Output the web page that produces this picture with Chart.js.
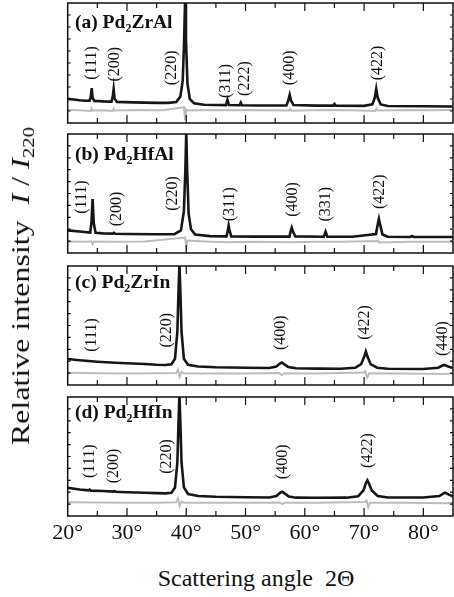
<!DOCTYPE html>
<html>
<head>
<meta charset="utf-8">
<script src="https://cdn.jsdelivr.net/npm/chart.js@4.4.1/dist/chart.umd.min.js"></script>
<style>
  body { margin: 0; background: #fff; }
  #wrap { position: relative; width: 454px; height: 597px; overflow: hidden; font-family: "Liberation Serif", serif; color: #111; }
  canvas { position: absolute; left: 0; }
  .tag { position: absolute; left: 75px; font-weight: bold; font-size: 19.5px; line-height: 18px; white-space: nowrap; }
  .tag sub { font-size: 12px; vertical-align: -4px; line-height: 0; }
  #ytitle { position: absolute; left: 21px; top: 286px; transform: translate(-50%, -50%) rotate(-90deg) scaleX(1.23); font-size: 26px; white-space: nowrap; }
  #ytitle sub { font-size: 17px; vertical-align: -5px; line-height: 0; }
  #xtitle { position: absolute; left: 256px; top: 578px; transform: translate(-50%, -50%); font-size: 24px; white-space: nowrap; }
</style>
</head>
<body>
<div id="wrap">
  <canvas id="pa"></canvas>
  <canvas id="pb"></canvas>
  <canvas id="pc"></canvas>
  <canvas id="pd"></canvas>
  <div class="tag" style="top:13px">(a) Pd<sub>2</sub>ZrAl</div>
  <div class="tag" style="top:145px">(b) Pd<sub>2</sub>HfAl</div>
  <div class="tag" style="top:273px">(c) Pd<sub>2</sub>ZrIn</div>
  <div class="tag" style="top:403px">(d) Pd<sub>2</sub>HfIn</div>
  <div id="ytitle">Relative intensity&nbsp;&nbsp;<i>I</i> / <i>I</i><sub>220</sub></div>
  <div id="xtitle">Scattering angle&nbsp;&nbsp;2&Theta;</div>
</div>
<script>
// 2theta ticks on the bottom axis
var angleTicks = [20, 30, 40, 50, 60, 70, 80];

// (a) Pd2ZrAl  - measured pattern (black) and difference (grey)
var angA = [20, 21, 22, 23, 23.7, 23.9, 24.05, 24.2, 24.5, 26, 27.4, 27.6, 27.75, 27.9, 28.3, 31, 35, 37, 38.3, 39.0, 39.4, 39.65, 39.8, 39.95, 40.2, 40.6, 41.3, 43, 45, 46.7, 46.95, 47.2, 49.0, 49.2, 49.4, 52, 56.9, 57.2, 57.45, 57.7, 58.1, 62, 64.8, 65.0, 65.2, 70, 71.4, 71.8, 72.05, 72.3, 72.8, 74, 80, 85];
var obsA = [0.201, 0.196, 0.190, 0.186, 0.186, 0.22, 0.291, 0.21, 0.184, 0.180, 0.178, 0.22, 0.282, 0.205, 0.176, 0.172, 0.168, 0.168, 0.175, 0.22, 0.35, 0.70, 1.02, 0.70, 0.33, 0.20, 0.165, 0.152, 0.150, 0.149, 0.193, 0.150, 0.148, 0.170, 0.148, 0.146, 0.147, 0.185, 0.235, 0.183, 0.150, 0.145, 0.145, 0.159, 0.145, 0.143, 0.155, 0.21, 0.285, 0.21, 0.155, 0.142, 0.140, 0.137];
var angDiffA = [20, 22, 23.9, 24.05, 24.2, 26, 27.6, 27.75, 27.9, 32, 36, 39.6, 39.8, 39.95, 40.2, 44, 47, 50, 57.3, 57.5, 57.7, 63, 68, 71.9, 72.1, 72.3, 77, 81, 85];
var diffA = [0.108, 0.106, 0.100, 0.122, 0.104, 0.107, 0.100, 0.120, 0.104, 0.108, 0.107, 0.132, 0.030, 0.115, 0.104, 0.109, 0.106, 0.108, 0.104, 0.116, 0.103, 0.108, 0.107, 0.100, 0.120, 0.104, 0.108, 0.106, 0.108];
var hklA = ['(111)', '(200)', '(220)', '(311)', '(222)', '(400)', '(422)'];

// (b) Pd2HfAl
var angB = [20, 22, 23.8, 24.0, 24.2, 24.4, 24.7, 26, 27.6, 27.8, 28.0, 30, 35, 38, 39.1, 39.6, 39.85, 40.0, 40.15, 40.4, 40.8, 41.5, 44, 46.8, 47.0, 47.15, 47.3, 47.6, 52, 57.4, 57.65, 57.8, 58.0, 58.4, 63.2, 63.5, 63.8, 68, 72.0, 72.3, 72.5, 72.7, 73.1, 74, 77.8, 78.1, 78.4, 85];
var obsB = [0.190, 0.180, 0.172, 0.25, 0.454, 0.25, 0.170, 0.165, 0.163, 0.170, 0.162, 0.160, 0.157, 0.158, 0.19, 0.35, 0.70, 1.02, 0.70, 0.33, 0.20, 0.155, 0.142, 0.140, 0.19, 0.231, 0.19, 0.140, 0.138, 0.138, 0.19, 0.213, 0.18, 0.140, 0.137, 0.179, 0.137, 0.136, 0.16, 0.24, 0.287, 0.24, 0.155, 0.136, 0.135, 0.143, 0.135, 0.134];
var angDiffB = [20, 23, 24.0, 24.2, 24.4, 28, 33, 39.8, 40.0, 40.2, 44, 47.1, 52, 57.8, 62, 66, 72.4, 72.6, 78, 85];
var diffB = [0.097, 0.095, 0.098, 0.075, 0.096, 0.094, 0.096, 0.130, 0.045, 0.105, 0.095, 0.090, 0.095, 0.091, 0.095, 0.094, 0.100, 0.088, 0.095, 0.094];
var hklB = ['(111)', '(200)', '(220)', '(311)', '(400)', '(331)', '(422)'];

// (c) Pd2ZrIn
var angC = [20, 22, 25, 28, 30, 33, 35, 36.5, 37.5, 38.1, 38.5, 38.7, 38.85, 39.0, 39.2, 39.6, 40.3, 42, 45, 50, 54, 55.2, 55.8, 56.1, 56.5, 57.2, 58.5, 62, 66, 68.5, 69.5, 70.0, 70.3, 70.6, 71.1, 72.2, 74, 80, 82.5, 83.3, 83.6, 84.2, 85];
var obsC = [0.218, 0.208, 0.196, 0.187, 0.183, 0.176, 0.170, 0.168, 0.175, 0.22, 0.45, 0.80, 1.02, 0.80, 0.45, 0.22, 0.170, 0.155, 0.149, 0.145, 0.143, 0.155, 0.180, 0.189, 0.175, 0.152, 0.141, 0.138, 0.137, 0.145, 0.175, 0.235, 0.282, 0.235, 0.175, 0.145, 0.136, 0.134, 0.145, 0.165, 0.168, 0.155, 0.142];
var angDiffC = [20, 25, 30, 35, 38.3, 38.6, 38.9, 39.2, 39.6, 45, 50, 55.7, 56.1, 56.5, 62, 69.9, 70.2, 70.5, 70.9, 77, 83.5, 85];
var diffC = [0.102, 0.099, 0.097, 0.098, 0.100, 0.130, 0.070, 0.112, 0.097, 0.097, 0.096, 0.100, 0.082, 0.098, 0.096, 0.105, 0.118, 0.062, 0.098, 0.096, 0.092, 0.096];
var hklC = ['(111)', '(220)', '(400)', '(422)', '(440)'];

// (d) Pd2HfIn
var angD = [20, 22, 23.5, 23.7, 23.9, 26, 27.7, 27.9, 28.1, 30, 33, 35, 36.5, 37.5, 38.1, 38.5, 38.7, 38.85, 39.0, 39.2, 39.6, 40.3, 42, 45, 50, 54, 55.2, 55.9, 56.2, 56.6, 57.3, 58.5, 62, 67, 69, 69.9, 70.3, 70.55, 70.8, 71.3, 72.3, 74, 80, 82.7, 83.4, 83.7, 84.3, 85];
var obsD = [0.238, 0.222, 0.215, 0.222, 0.213, 0.210, 0.205, 0.208, 0.204, 0.200, 0.195, 0.192, 0.190, 0.196, 0.24, 0.45, 0.80, 1.02, 0.80, 0.45, 0.24, 0.185, 0.168, 0.162, 0.158, 0.156, 0.168, 0.198, 0.204, 0.19, 0.163, 0.154, 0.153, 0.154, 0.165, 0.215, 0.275, 0.300, 0.275, 0.215, 0.168, 0.155, 0.155, 0.168, 0.19, 0.196, 0.18, 0.165];
var angDiffD = [20, 25, 30, 35, 38.3, 38.6, 38.9, 39.2, 39.6, 45, 50, 55.8, 56.2, 56.6, 62, 70.1, 70.4, 70.7, 71.0, 77, 83.7, 85];
var diffD = [0.115, 0.113, 0.112, 0.112, 0.115, 0.150, 0.085, 0.122, 0.112, 0.112, 0.111, 0.114, 0.100, 0.112, 0.111, 0.118, 0.130, 0.075, 0.112, 0.111, 0.108, 0.111];
var hklD = ['(111)', '(200)', '(220)', '(400)', '(422)'];

// where the reflection labels sit (angle, height in panel)
var hklPosA = [[24.0, 0.50], [27.95, 0.49], [37.5, 0.46], [46.6, 0.35], [49.8, 0.37], [57.5, 0.46], [72.3, 0.50]];
var hklPosB = [[22.4, 0.47], [28.25, 0.37], [37.8, 0.50], [47.4, 0.41], [58.0, 0.45], [63.6, 0.41], [72.7, 0.515]];
var hklPosC = [[24.1, 0.42], [36.7, 0.46], [56.0, 0.44], [70.2, 0.525], [83.2, 0.39]];
var hklPosD = [[23.75, 0.46], [27.7, 0.42], [36.7, 0.50], [56.3, 0.455], [70.6, 0.55]];

function pts(xs, ys) {
    return xs.map(function (v, i) { return { x: v, y: ys[i] }; });
}

var framePlugin = {
    id: 'frame',
    afterDatasetsDraw: function (chart, args, opts) {
        var ctx = chart.ctx, a = chart.chartArea;
        var x = chart.scales.x, y = chart.scales.y;
        ctx.save();
        ctx.strokeStyle = '#111';
        ctx.lineWidth = 1.5;
        ctx.strokeRect(a.left, a.top, a.right - a.left, a.bottom - a.top);
        ctx.lineWidth = 1.2;
        ctx.beginPath();
        for (var v = 25; v < 85; v += 5) {
            var px = x.getPixelForValue(v);
            var len = v % 10 === 0 ? 8 : 5;
            ctx.moveTo(px, a.top); ctx.lineTo(px, a.top + len);
            ctx.moveTo(px, a.bottom); ctx.lineTo(px, a.bottom - len);
        }
        for (var k = 1; k < 10; k++) {
            var py = y.getPixelForValue(k / 10);
            ctx.moveTo(a.left, py); ctx.lineTo(a.left + 3, py);
            ctx.moveTo(a.right, py); ctx.lineTo(a.right - 3, py);
        }
        ctx.stroke();

        ctx.fillStyle = '#111';
        ctx.font = '16px "Liberation Serif"';
        ctx.textAlign = 'center';
        ctx.textBaseline = 'middle';
        opts.names.forEach(function (name, i) {
            ctx.save();
            ctx.translate(x.getPixelForValue(opts.at[i][0]), y.getPixelForValue(opts.at[i][1]));
            ctx.rotate(-Math.PI / 2);
            ctx.fillText(name, 0, 0);
            ctx.restore();
        });
        ctx.restore();
    }
};

function makePanel(id, top, bottom, obsX, obsY, difX, difY, names, at, last) {
    var cv = document.getElementById(id);
    var extra = last ? 30 : 4;
    cv.width = 454;
    cv.height = bottom - top + 4 + extra;
    cv.style.top = (top - 4) + 'px';

    var xScale = {
        type: 'linear',
        min: 20,
        max: 85,
        display: last,
        grid: { display: false, drawTicks: false },
        border: { display: false }
    };
    if (last) {
        xScale.afterBuildTicks = function (s) {
            s.ticks = angleTicks.map(function (v) { return { value: v }; });
        };
        xScale.afterFit = function (s) { s.height = 30; };
        xScale.ticks = {
            callback: function (v) { return v + '°'; },
            font: { family: 'Liberation Serif', size: 22 },
            color: '#111',
            padding: 4,
            maxRotation: 0,
            autoSkip: false
        };
    }

    return new Chart(cv.getContext('2d'), {
        type: 'line',
        data: {
            datasets: [{
                data: pts(obsX, obsY),
                borderColor: '#161616',
                borderWidth: 2.6,
                pointRadius: 0,
                tension: 0,
                clip: 0
            }, {
                data: pts(difX, difY),
                borderColor: '#bcbcbc',
                borderWidth: 2,
                pointRadius: 0,
                tension: 0,
                clip: 0
            }]
        },
        options: {
            responsive: false,
            animation: false,
            devicePixelRatio: 1,
            events: [],
            layout: { padding: { left: 67.7, right: 1, top: 4, bottom: last ? 0 : 4 } },
            scales: {
                x: xScale,
                y: { min: 0, max: 1, display: false }
            },
            plugins: {
                legend: { display: false },
                tooltip: { enabled: false },
                frame: { names: names, at: at }
            }
        },
        plugins: [framePlugin]
    });
}

makePanel('pa', 3, 123, angA, obsA, angDiffA, diffA, hklA, hklPosA, false);
makePanel('pb', 134, 253, angB, obsB, angDiffB, diffB, hklB, hklPosB, false);
makePanel('pc', 266, 385, angC, obsC, angDiffC, diffC, hklC, hklPosC, false);
makePanel('pd', 397, 516, angD, obsD, angDiffD, diffD, hklD, hklPosD, true);
</script>
</body>
</html>
